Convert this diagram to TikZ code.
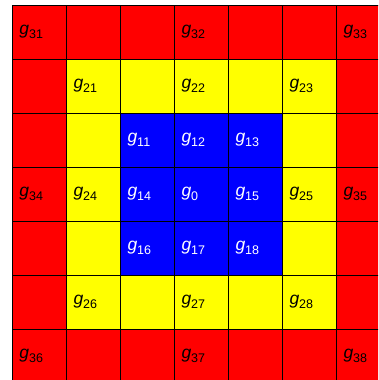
\documentclass[tikz,border=0pt]{standalone}
\usepackage{fontspec}
\setmainfont{Liberation Sans}
\definecolor{cred}{RGB}{255,0,0}
\definecolor{cyellow}{RGB}{255,255,0}
\definecolor{cblue}{RGB}{0,0,255}
\newcommand{\glab}[1]{{\fontsize{17.5}{20}\selectfont\textit{g}}\raisebox{-4pt}{\fontsize{12.5}{14}\selectfont #1}}
\tikzset{
  lab/.style={anchor=base west, inner sep=0pt, outer sep=0pt},
  gridline/.style={line width=1pt, black}
}
\begin{document}
\begin{tikzpicture}[x=1pt,y=-1pt]
\useasboundingbox (0,0) rectangle (378,380);
\begin{scope}
\clip (0,0) rectangle (378,380);
\fill[cred] (12,5) rectangle (390,383);
\fill[cyellow] (66,59) rectangle (336,329);
\fill[cblue] (120,113) rectangle (282,275);
\foreach \i in {0,...,7} {
  \draw[gridline] (12+54*\i,5) -- (12+54*\i,383);
  \draw[gridline] (12,5+54*\i) -- (390,5+54*\i);
}
\end{scope}
\foreach \c/\r/\n/\col in {0/0/31/black, 3/0/32/black, 6/0/33/black,
  1/1/21/black, 3/1/22/black, 5/1/23/black,
  2/2/11/white, 3/2/12/white, 4/2/13/white,
  0/3/34/black, 1/3/24/black, 2/3/14/white, 3/3/0/white, 4/3/15/white, 5/3/25/black, 6/3/35/black,
  2/4/16/white, 3/4/17/white, 4/4/18/white,
  1/5/26/black, 3/5/27/black, 5/5/28/black,
  0/6/36/black, 3/6/37/black, 6/6/38/black} {
  \node[lab, text=\col] (g\n) at ({12+54*\c+7.5}, {5+54*\r+27+2.5}) {\glab{\n}};
}
\end{tikzpicture}
\end{document}
